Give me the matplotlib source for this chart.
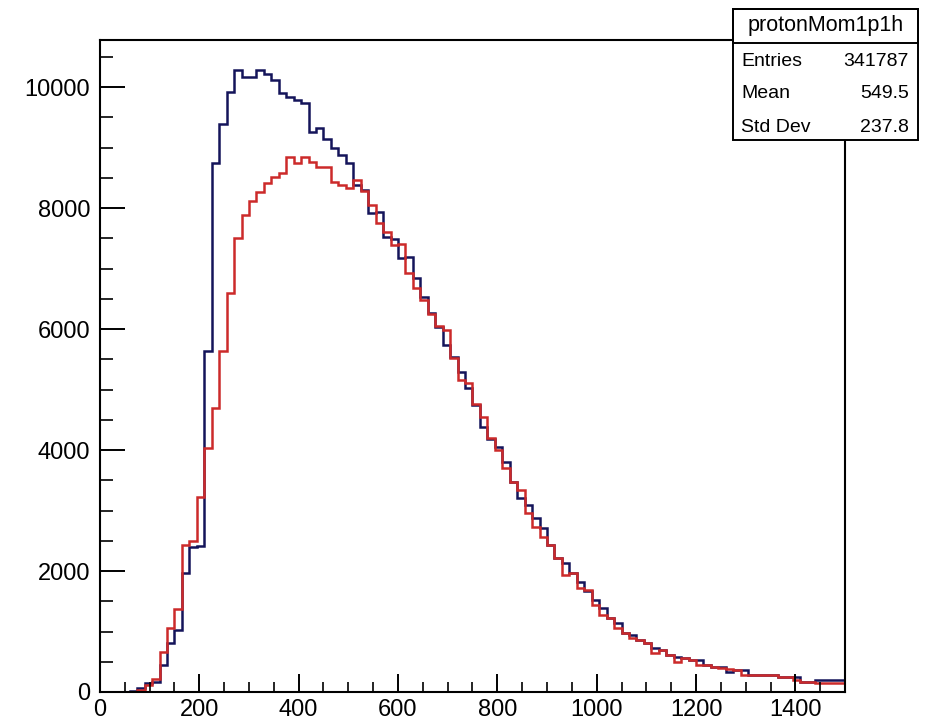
import numpy as np
import matplotlib
matplotlib.use("Agg")
import matplotlib.pyplot as plt
from matplotlib.ticker import MultipleLocator

# histogram binning (100 bins from 0 to 1500)
bin_lo = 0
bin_hi = 1500
n_bins = 100

# protonMom1p1h (blue, drawn first, stats box belongs to it)
blue_counts = [
    0, 0, 0, 0, 10, 60, 150, 170, 446, 805,
    1025, 1962, 2402, 2420, 5640, 8738, 9390, 9923, 10280, 10170,
    10170, 10280, 10225, 10115, 9900, 9840, 9790, 9730, 9260, 9320,
    9150, 8990, 8880, 8740, 8390, 8300, 7917, 7940, 7526, 7495,
    7170, 7190, 6843, 6534, 6264, 6030, 5736, 5542, 5295, 5020,
    4744, 4385, 4190, 4055, 3807, 3476, 3201, 3091, 2870, 2705,
    2430, 2210, 2127, 1962, 1823, 1670, 1520, 1383, 1218, 1135,
    970, 942, 860, 805, 722, 690, 612, 584, 557, 529,
    529, 446, 419, 419, 336, 364, 364, 281, 281, 281,
    281, 253, 253, 253, 170, 170, 198, 198, 198, 198,
]

# second histogram (red)
red_counts = [
    0, 0, 0, 0, 0, 40, 120, 210, 666, 1052,
    1367, 2430, 2500, 3230, 4033, 4700, 5642, 6590, 7510, 7880,
    8110, 8270, 8408, 8518, 8573, 8848, 8738, 8848, 8765, 8683,
    8683, 8435, 8380, 8325, 8470, 8280, 8050, 7747, 7608, 7390,
    7400, 6925, 6678, 6480, 6250, 6045, 5983, 5515, 5157, 5102,
    4760, 4550, 4200, 4000, 3697, 3476, 3339, 2953, 2732, 2567,
    2430, 2210, 1934, 1960, 1713, 1680, 1438, 1273, 1218, 1052,
    970, 887, 860, 805, 640, 694, 612, 501, 557, 529,
    446, 446, 419, 390, 380, 364, 281, 281, 281, 281,
    281, 253, 253, 198, 170, 170, 143, 143, 143, 143,
]

stats_title = "protonMom1p1h"
stats_rows = [("Entries", "341787"), ("Mean", "549.5"), ("Std Dev", "237.8")]

plt.rcParams['font.family'] = ['Liberation Sans', 'DejaVu Sans']

fig = plt.figure(figsize=(9.29, 7.24), dpi=100)
ax = fig.add_axes([0.1076, 0.0442, 0.8020, 0.9006])

edges = np.linspace(bin_lo, bin_hi, n_bins + 1)
ax.stairs(blue_counts, edges, color="#14145a", lw=1.8)
ax.stairs(red_counts, edges, color="#cc2a2a", lw=1.8)

ax.set_xlim(bin_lo, bin_hi)
ax.set_ylim(0, 10780)

ax.xaxis.set_major_locator(MultipleLocator(200))
ax.xaxis.set_minor_locator(MultipleLocator(50))
ax.yaxis.set_major_locator(MultipleLocator(2000))
ax.yaxis.set_minor_locator(MultipleLocator(500))

ax.tick_params(axis="x", which="major", direction="in", length=13, width=1.4,
               labelsize=17, pad=5)
ax.tick_params(axis="x", which="minor", direction="in", length=7.5, width=1.2)
ax.tick_params(axis="y", which="major", direction="in", length=18, width=1.4,
               labelsize=17, pad=7)
ax.tick_params(axis="y", which="minor", direction="in", length=9, width=1.2)
for sp in ax.spines.values():
    sp.set_linewidth(1.5)

# stats box like ROOT
x0, x1 = 733 / 929, 918 / 929
y_top = 1 - 9 / 724
y_sep = 1 - 43 / 724
y_bot = 1 - 140 / 724
box = plt.Rectangle((x0, y_bot), x1 - x0, y_top - y_bot, transform=fig.transFigure,
                    facecolor="white", edgecolor="black", lw=1.4, zorder=5)
fig.add_artist(box)
title_box = plt.Rectangle((x0, y_sep), x1 - x0, y_top - y_sep, transform=fig.transFigure,
                          facecolor="none", edgecolor="black", lw=1.4, zorder=6)
fig.add_artist(title_box)
fig.text((x0 + x1) / 2, (y_top + y_sep) / 2, stats_title, ha="center", va="center",
         fontsize=15.5, zorder=7)
row_y = [62, 94, 127]
for (lab, val), py in zip(stats_rows, row_y):
    fig.text(741 / 929, 1 - py / 724, lab, ha="left", va="center", fontsize=14, zorder=7)
    fig.text(909 / 929, 1 - py / 724, val, ha="right", va="center", fontsize=14, zorder=7)

fig.savefig("out.png", dpi=100)
